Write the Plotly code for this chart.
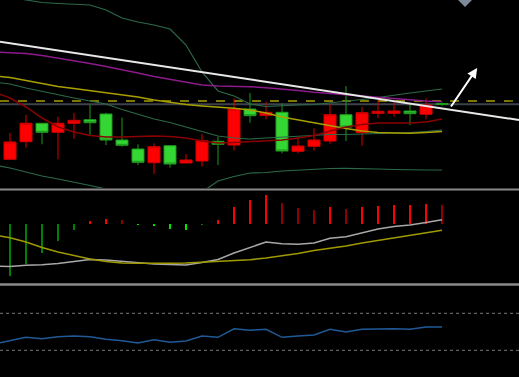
import plotly.graph_objects as go

# ---------------- data ----------------
candle_idx = list(range(28))
open_ = [30.7, 48.3, 66.7, 57.7, 66.7, 70.3, 76.0, 50.0, 41.0, 27.3, 44.3, 27.0, 29.0, 48.7,
         45.0, 81.0, 74.7, 77.7, 38.7, 43.7, 49.0, 75.3, 57.3, 76.7, 76.7, 79.0, 75.7, 86.5]
high_ = [57.0, 75.3, 67.0, 73.3, 77.0, 85.0, 77.3, 72.3, 45.7, 46.7, 45.0, 36.0, 56.0, 53.3,
         91.7, 97.0, 88.3, 86.7, 52.7, 61.7, 85.7, 104.0, 83.3, 90.0, 89.0, 86.7, 91.7, 87.3]
low_ = [30.0, 42.3, 45.7, 30.7, 51.3, 54.3, 45.0, 43.3, 25.0, 16.0, 22.3, 27.0, 23.3, 25.0,
        39.3, 67.3, 70.7, 36.7, 36.7, 39.3, 46.3, 49.0, 44.3, 71.7, 73.3, 65.0, 70.7, 84.3]
close_ = [48.0, 66.7, 57.7, 66.7, 69.7, 67.3, 50.0, 44.7, 27.7, 43.3, 26.0, 30.0, 49.3, 45.7,
          81.0, 74.3, 77.7, 39.0, 44.0, 50.0, 75.3, 63.0, 77.3, 78.7, 79.0, 76.3, 85.0, 85.5]

ind_idx = list(range(-1, 28))
ma_purple = [138.0, 137.5, 136.5, 134.5, 132.0, 129.0, 126.5, 123.5, 120.5, 117.0, 113.5,
             110.5, 107.5, 105.0, 104.0, 103.7, 103.3, 102.2, 101.2, 99.5, 97.8, 96.5,
             95.2, 93.5, 92.5, 91.0, 90.0, 89.0, 88.3]
boll_upper = [195.0, 193.0, 190.0, 187.5, 186.5, 185.7, 185.0, 180.0, 172.0, 168.0, 165.0,
              161.0, 145.0, 118.0, 99.0, 94.0, 86.0, 83.5, 84.5, 85.0, 85.5, 87.0, 88.5,
              90.5, 92.5, 95.0, 97.0, 99.0, 101.0]
boll_mid = [108.0, 106.0, 102.0, 98.5, 95.0, 92.0, 89.0, 86.0, 80.5, 76.0, 71.0, 67.5, 63.0,
            58.5, 54.0, 52.0, 51.0, 52.0, 53.0, 54.0, 54.5, 55.5, 55.5, 56.0, 56.0, 56.5,
            57.5, 58.5, 60.0]
boll_lower = [25.0, 22.0, 18.0, 14.0, 11.0, 8.0, 4.5, 1.0, -3.0, -6.0, -8.0, -9.0, -7.0,
              -2.0, 9.0, 13.5, 17.0, 17.5, 19.0, 20.0, 21.0, 21.5, 21.7, 21.7, 21.0, 20.5,
              20.0, 20.0, 20.0]
ma_yellow = [114.0, 112.5, 109.5, 106.5, 103.5, 101.5, 99.5, 97.5, 95.5, 93.0, 90.0, 87.5,
             85.5, 84.0, 83.0, 81.7, 80.0, 77.0, 73.0, 70.0, 67.0, 64.0, 61.5, 59.0, 57.5,
             57.0, 56.7, 57.5, 58.5]
ma_red = [98.0, 92.0, 83.0, 72.0, 63.0, 58.0, 54.5, 53.0, 53.0, 53.5, 54.0, 53.5, 52.0, 49.0,
          47.0, 47.5, 48.5, 49.0, 50.0, 52.0, 54.5, 59.0, 63.0, 65.5, 67.0, 67.0, 67.0, 68.0,
          71.0]

trend_x = [-0.625, 31.8125]
trend_y = [148.3, 70.0]
level_gray = 85.7
level_yellow_dash = 89.0
arrow_tail = (27.5, 82.0)
arrow_head = (29.2, 122.0)
marker_x = [28.44]
marker_y = [191.5]

macd_hist = [-51.5, -40.0, -29.0, -17.0, -6.0, 3.5, 5.0, 4.0, -1.0, -1.5, -5.0, -6.0, -0.7,
             4.0, 17.0, 24.0, 29.0, 21.0, 16.0, 14.0, 17.0, 15.5, 17.0, 18.5, 19.5, 19.5,
             20.0, 19.0]
macd_colors = ['#008000'] * 5 + ['#ff0000', '#ff0000', '#8b0000'] + ['#00e600'] * 4 + \
              ['#008000'] + ['#ff0000'] * 4 + ['#8b0000'] * 3 + ['#ff0000', '#8b0000'] + \
              ['#ff0000'] * 5 + ['#8b0000']
dif = [-42.0, -42.5, -41.3, -40.8, -39.5, -37.5, -35.5, -36.0, -37.5, -39.0, -40.0, -40.5,
       -41.0, -38.5, -35.5, -29.0, -23.5, -18.0, -19.8, -20.3, -19.0, -14.3, -12.7, -9.0,
       -5.0, -2.5, -1.0, 1.5, 4.3]
dea = [-11.0, -13.7, -18.0, -23.5, -28.0, -31.5, -35.0, -37.5, -39.0, -39.3, -39.5, -39.3,
       -39.0, -38.3, -37.8, -37.0, -35.8, -34.0, -32.0, -29.5, -26.5, -24.3, -22.0, -19.0,
       -16.5, -14.0, -12.0, -9.0, -6.3]

rsi = [30.2, 35.9, 41.1, 38.8, 41.9, 43.2, 42.1, 37.8, 35.6, 31.8, 37.2, 33.0, 35.1, 43.2,
       41.1, 55.0, 52.4, 54.1, 41.1, 43.2, 44.8, 54.1, 49.7, 54.1, 55.0, 55.0, 54.1, 57.8,
       57.8]
rsi_levels = [80, 20]

# ---------------- figure ----------------
W, H = 519, 377
x_range = [-0.625, 31.8125]

fig = go.Figure()


def line(x, y, color, width, ax='1'):
    xa = 'x' if ax == '1' else 'x' + ax
    ya = 'y' if ax == '1' else 'y' + ax
    return go.Scatter(x=x, y=y, mode='lines', line=dict(color=color, width=width),
                      xaxis=xa, yaxis=ya, hoverinfo='skip', showlegend=False)


# panel 1
fig.add_trace(line(ind_idx, boll_upper, '#2b6a48', 1.2))
fig.add_trace(line(ind_idx, boll_mid, '#2b6a48', 1.2))
fig.add_trace(line(ind_idx, boll_lower, '#2b6a48', 1.2))
fig.add_trace(line(ind_idx, ma_purple, '#8b1a8b', 1.5))
fig.add_trace(line(ind_idx, ma_yellow, '#a8a000', 1.5))
fig.add_trace(line(ind_idx, ma_red, '#8b0000', 1.5))

fig.add_trace(go.Candlestick(
    x=candle_idx, open=open_, high=high_, low=low_, close=close_,
    increasing=dict(line=dict(color='#d40000', width=1), fillcolor='#ff0000'),
    decreasing=dict(line=dict(color='#1e9a1e', width=1), fillcolor='#33d633'),
    whiskerwidth=0, xaxis='x', yaxis='y', hoverinfo='skip', showlegend=False))

fig.add_trace(line(trend_x, trend_y, '#e8e8e8', 2))
fig.add_trace(go.Scatter(x=marker_x, y=marker_y, mode='markers',
                         marker=dict(symbol='diamond', size=13, color='#7d8a9a'),
                         xaxis='x', yaxis='y', hoverinfo='skip', showlegend=False))

# panel 2
fig.add_trace(go.Bar(x=candle_idx, y=macd_hist, marker=dict(color=macd_colors, line=dict(width=0)),
                     width=0.13, xaxis='x2', yaxis='y2', hoverinfo='skip', showlegend=False))
fig.add_trace(line(ind_idx, dif, '#a8a8a8', 1.5, '2'))
fig.add_trace(line(ind_idx, dea, '#a09a00', 1.5, '2'))

# panel 3
fig.add_trace(line(ind_idx, rsi, '#1f5a96', 1.5, '3'))


def ax_common():
    return dict(showgrid=False, zeroline=False, showticklabels=False, ticks='',
                showline=False, fixedrange=True)


p1_dom = [1 - 188 / H, 1]
p2_dom = [1 - 283 / H, 1 - 191 / H]
p3_dom = [0, 1 - 286 / H]

shapes = [
    dict(type='line', xref='x domain', yref='y', x0=0, x1=1, y0=level_gray, y1=level_gray,
         line=dict(color='#3c414c', width=2), layer='below'),
    dict(type='line', xref='x domain', yref='y', x0=0, x1=1, y0=level_yellow_dash,
         y1=level_yellow_dash, line=dict(color='#a8a000', width=1.3, dash='dash'), layer='below'),
    dict(type='line', xref='paper', yref='paper', x0=0, x1=1, y0=1 - 189.5 / H, y1=1 - 189.5 / H,
         line=dict(color='#8a8a8a', width=2)),
    dict(type='line', xref='paper', yref='paper', x0=0, x1=1, y0=1 - 284.5 / H, y1=1 - 284.5 / H,
         line=dict(color='#8a8a8a', width=2.5)),
]
for lv in rsi_levels:
    shapes.append(dict(type='line', xref='x3 domain', yref='y3', x0=0, x1=1, y0=lv, y1=lv,
                       line=dict(color='#7a7a7a', width=1, dash='dot')))

fig.update_layout(
    width=W, height=H, margin=dict(l=0, r=0, t=0, b=0),
    paper_bgcolor='black', plot_bgcolor='black',
    showlegend=False, boxgap=0.25, boxgroupgap=0, bargap=0,
    xaxis=dict(**ax_common(), range=x_range, domain=[0, 1], anchor='y',
               rangeslider=dict(visible=False)),
    yaxis=dict(**ax_common(), range=[2, 190], domain=p1_dom, anchor='x'),
    xaxis2=dict(**ax_common(), range=x_range, domain=[0, 1], anchor='y2'),
    yaxis2=dict(**ax_common(), range=[-59, 33], domain=p2_dom, anchor='x2'),
    xaxis3=dict(**ax_common(), range=x_range, domain=[0, 1], anchor='y3'),
    yaxis3=dict(**ax_common(), range=[-23.3, 124.3], domain=p3_dom, anchor='x3'),
    shapes=shapes,
    annotations=[dict(x=arrow_head[0], y=arrow_head[1], ax=arrow_tail[0], ay=arrow_tail[1],
                      xref='x', yref='y', axref='x', ayref='y', showarrow=True, text='',
                      arrowhead=2, arrowsize=1, arrowwidth=2, arrowcolor='white')],
)

fig.write_html("out.html", config={'displayModeBar': False},
               post_script="document.body.style.margin='0px';"
                           "document.body.style.background='black';"
                           "document.body.style.overflow='hidden';")
